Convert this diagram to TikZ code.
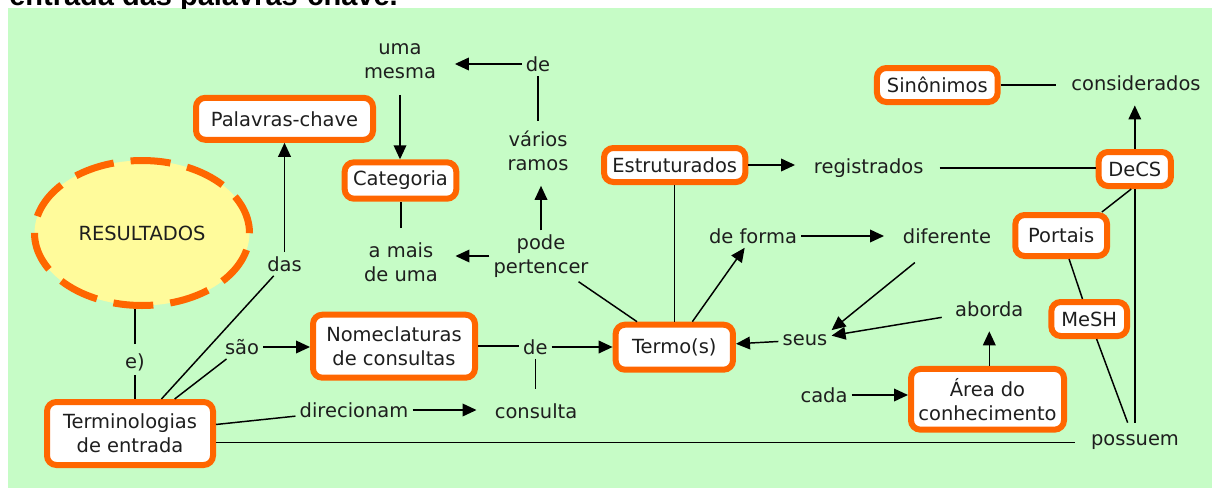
\documentclass[tikz,border=0pt]{standalone}
\usepackage{fontspec}
\setmainfont{DejaVu Sans}
\newfontfamily\headfont{Liberation Sans}
\usepackage{xcolor}
\usepackage{tikz}
\usetikzlibrary{positioning,shapes.geometric,arrows.meta}
\definecolor{mapgreen}{HTML}{C6FCC6}
\definecolor{maporange}{HTML}{FF6600}
\definecolor{mapyellow}{HTML}{FFFB9B}
\definecolor{maptext}{HTML}{1E1E1E}

\begin{document}
\begin{tikzpicture}[x=0.75pt,y=-0.75pt,
		every node/.style={font=\fontsize{14.6}{18}\selectfont,text=maptext},
		concept/.style={draw=maporange,line width=4.5pt,fill=white,rounded corners=7pt,align=center,inner sep=1pt},
		phrase/.style={align=center,inner sep=3pt},
		link/.style={line width=1.1pt},
		arr/.style={link,-{Triangle[length=10.5pt,width=9.5pt]}}]
		
		\useasboundingbox (0,0) rectangle (1217,489);
		\fill[mapgreen] (8,8) rectangle (1212,488);
		\begin{scope}
			\clip (0,0) rectangle (1217,8);
			\node[anchor=base west,inner sep=0pt,text=black,font=\headfont\bfseries\fontsize{21.75}{26}\selectfont] (title) at (9,5) {entrada das palavras-chave.};
		\end{scope}
		
		\node[ellipse,draw=maporange,fill=mapyellow,line width=5.25pt,dash pattern=on 30pt off 12.8pt,minimum width=161.25pt,minimum height=108.75pt,inner sep=0pt] (res) at (142,233) {RESULTADOS};
		
		\node[concept,minimum width=132.75pt,minimum height=31.5pt] (pal) at (284.5,118.8) {Palavras-chave};
		\node[concept,minimum width=83.7pt,minimum height=27.3pt] (cat) at (400.5,180.5) {Categoria};
		\node[concept,minimum width=106pt,minimum height=25.5pt] (estr) at (674.7,165) {Estruturados};
		\node[concept,minimum width=90.5pt,minimum height=25.5pt] (sin) at (937.3,85) {Sinônimos};
		\node[concept,minimum width=54.2pt,minimum height=25.5pt] (decs) at (1134.8,169) {DeCS};
		\node[concept,minimum width=68.8pt,minimum height=30.75pt] (portais) at (1061.2,235.5) {Portais};
		\node[concept,minimum width=56.8pt,minimum height=25.5pt] (mesh) at (1089.2,319) {MeSH};
		\node[concept,minimum width=88pt,minimum height=33.75pt] (termo) at (674.3,347.2) {Termo(s)};
		\node[concept,minimum width=114.75pt,minimum height=45.5pt] (area) at (987.5,399.3) {Área do\\conhecimento};
		\node[concept,minimum width=124.5pt,minimum height=47.25pt] (term) at (130,433.5) {Terminologias\\de entrada};
		\node[concept,minimum width=121.5pt,minimum height=47.25pt] (nomecl) at (394,346.2) {Nomeclaturas\\de consultas};
		
		\node[phrase] (umamesma) at (400,61) {uma\\mesma};
		\node[phrase] (deA) at (538,64) {de};
		\node[phrase] (varios) at (538,151) {vários\\ramos};
		\node[phrase] (amais) at (401,262) {a mais\\de uma};
		\node[phrase] (pode) at (541,256) {pode\\pertencer};
		\node[phrase] (deforma) at (753,236) {de forma};
		\node[phrase] (dif) at (947,236.5) {diferente};
		\node[phrase] (regis) at (868.7,168) {registrados};
		\node[phrase] (consid) at (1136,83) {considerados};
		\node[phrase] (aborda) at (989.3,309.5) {aborda};
		\node[phrase] (seus) at (805,340) {seus};
		\node[phrase] (cada) at (824,395) {cada};
		\node[phrase] (possuem) at (1135,442.5) {possuem};
		\node[phrase] (consulta) at (536,411) {consulta};
		\node[phrase] (deB) at (535.3,347) {de};
		\node[phrase] (sao) at (242,347) {são};
		\node[phrase] (eparen) at (135,362) {e)};
		\node[phrase] (das) at (284.5,264) {das};
		\node[phrase] (direc) at (354,410) {direcionam};
		
		\draw[link,shorten <=3.75pt] (eparen.north) -- (eparen.north |- res.south);
		\draw[link] (eparen.south) -- (eparen.south |- term.north);
		\draw[link] (term) -- (das);
		\draw[arr] (das.north) -- (pal.south);
		\draw[link] (term) -- (sao);
		\draw[arr] (sao.east) -- (sao.east -| nomecl.west);
		\draw[link] (term) -- (direc);
		\draw[arr,shorten >=10.5pt] (direc.east) -- (direc.east -| consulta.west);
		\draw[link,shorten >=8.5pt] (possuem.west -| term.east) -- (possuem.west);
		\draw[link] (nomecl.east) -- (nomecl.east -| deB.west);
		\draw[arr] (deB.east) -- (deB.east -| termo.west);
		\draw[link,shorten >=8pt] (deB.south) -- (deB.south |- consulta.north);
		\draw[link] (termo) -- (pode);
		\draw[arr,shorten >=8pt] (pode.north) -- (pode.north |- varios.south);
		\draw[arr,shorten >=10pt] (pode.west) -- (pode.west -| amais.east);
		\draw[link,shorten <=7.5pt] (amais.north) -- (amais.north |- cat.south);
		\draw[link,shorten <=4.5pt] (varios.north) -- (varios.north |- deA.south);
		\draw[arr,shorten >=11pt] (deA.west) -- (deA.west -| umamesma.east);
		\draw[arr,shorten <=9pt] (umamesma.south) -- (umamesma.south |- cat.north);
		\draw[link] (estr.south) -- (estr.south |- termo.north);
		\draw[arr] (termo) -- (deforma);
		\draw[arr,shorten >=11pt] (deforma.east) -- (deforma.east -| dif.west);
		\draw[arr,shorten <=17pt] (dif) -- (seus.north east);
		\draw[arr,shorten <=7pt] (aborda) -- (seus);
		\draw[arr] (seus) -- (termo);
		\draw[arr] (cada.east) -- (cada.east -| area.west);
		\draw[arr,shorten >=7.5pt] (area.north -| aborda.south) -- (aborda.south);
		\draw[arr,shorten >=11pt] (estr.east) -- (estr.east -| regis.west);
		\draw[link,shorten <=9pt] (regis.east) -- (regis.east -| decs.west);
		\draw[arr,shorten >=8pt] (decs.north) -- (decs.north |- consid.south);
		\draw[link,shorten >=8pt] (sin.east) -- (sin.east -| consid.west);
		\draw[link] (decs.260) -- (portais.30);
		\draw[link] (portais) -- (mesh);
		\draw[link,shorten >=6.5pt] (mesh) -- (possuem);
		\draw[link,shorten <=6pt] (possuem.north) -- (possuem.north |- decs.south);
\end{tikzpicture}
\end{document}
